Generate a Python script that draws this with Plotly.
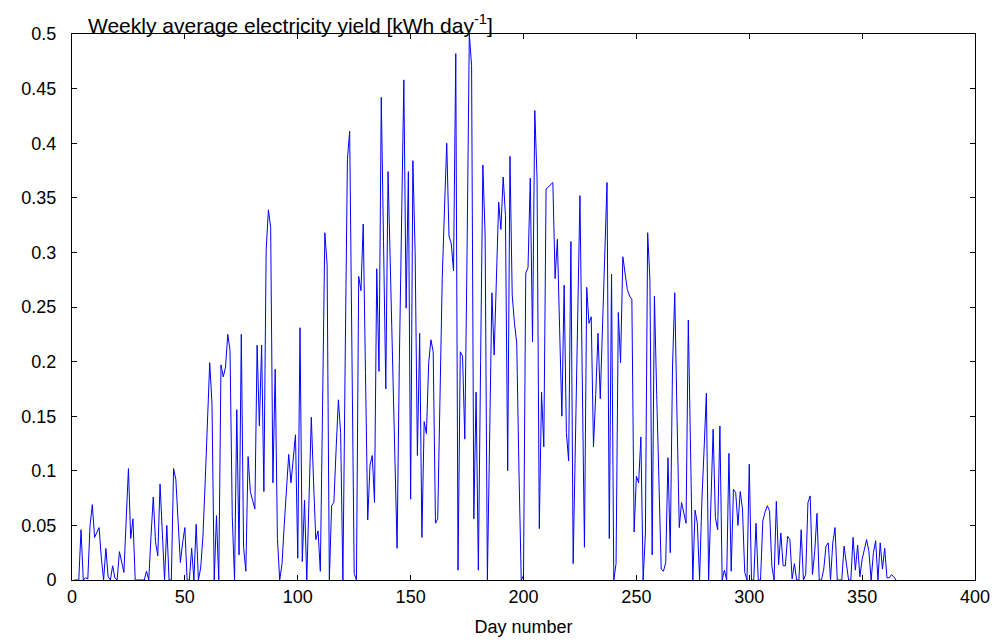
import plotly.graph_objects as go

# Daily values, day 1 .. 365 (kWh day^-1)
yield_d001_050 = [0, 0, 0, 0.046, 0, 0.002, 0.001, 0.05, 0.069, 0.039,
                  0.044, 0.048, 0.02, 0, 0.029, 0.003, 0, 0.013, 0.002, 0,
                  0.026, 0.015, 0.007, 0.055, 0.102, 0.038, 0.056, 0, 0, 0,
                  0, 0, 0.008, 0, 0.04, 0.076, 0.035, 0.022, 0.088, 0.044,
                  0, 0.05, 0, 0, 0.102, 0.092, 0.05, 0.016, 0.034, 0.048]
yield_d051_100 = [0, 0, 0.029, 0, 0.051, 0, 0.011, 0.04, 0.09, 0.145,
                  0.199, 0.162, 0, 0.059, 0, 0.197, 0.186, 0.195, 0.225, 0.21,
                  0.058, 0, 0.156, 0.023, 0.225, 0.03, 0.008, 0.113, 0.081, 0.073,
                  0.065, 0.215, 0.141, 0.215, 0.081, 0.302, 0.339, 0.323, 0.089, 0.193,
                  0.038, 0, 0.014, 0.05, 0.085, 0.115, 0.089, 0.11, 0.133, 0.02]
yield_d101_150 = [0.231, 0.017, 0.073, 0, 0.08, 0.149, 0.09, 0.037, 0.045, 0.008,
                  0.16, 0.318, 0.289, 0, 0.068, 0.071, 0.12, 0.165, 0.135, 0,
                  0.2, 0.385, 0.411, 0.2, 0.006, 0, 0.278, 0.265, 0.326, 0.19,
                  0.055, 0.105, 0.114, 0.071, 0.285, 0.191, 0.442, 0.31, 0.175, 0.374,
                  0.29, 0.2, 0.11, 0.029, 0.2, 0.35, 0.458, 0.249, 0.374, 0.074]
yield_d151_200 = [0.384, 0.3, 0.114, 0.226, 0.039, 0.145, 0.134, 0.199, 0.22, 0.209,
                  0.052, 0.056, 0.17, 0.276, 0.34, 0.4, 0.315, 0.308, 0.283, 0.482,
                  0.009, 0.209, 0.205, 0.129, 0.3, 0.5, 0.471, 0.056, 0.172, 0.009,
                  0.2, 0.38, 0.316, 0, 0.13, 0.263, 0.206, 0.28, 0.346, 0.321,
                  0.369, 0.334, 0.1, 0.388, 0.261, 0.235, 0.217, 0.1, 0, 0.004]
yield_d201_250 = [0.281, 0.286, 0.368, 0.218, 0.43, 0.368, 0.047, 0.172, 0.122, 0.358,
                  0.36, 0.362, 0.364, 0.276, 0.312, 0.23, 0.15, 0.27, 0.135, 0.109,
                  0.31, 0.015, 0.13, 0.24, 0.352, 0.19, 0.03, 0.268, 0.235, 0.241,
                  0.122, 0.17, 0.226, 0.166, 0.23, 0.3, 0.364, 0.038, 0.28, 0,
                  0.015, 0.245, 0.199, 0.296, 0.28, 0.266, 0.26, 0.257, 0.044, 0.095]
yield_d251_300 = [0.089, 0.131, 0, 0.043, 0.318, 0.275, 0.023, 0.26, 0.17, 0.09,
                  0.01, 0.008, 0.016, 0.112, 0.025, 0.195, 0.263, 0.15, 0.048, 0.071,
                  0.06, 0.052, 0.238, 0.12, 0, 0.064, 0.052, 0, 0.072, 0.12,
                  0.171, 0, 0.07, 0.138, 0.057, 0.046, 0.141, 0, 0.009, 0,
                  0.116, 0.008, 0.083, 0.08, 0.05, 0.081, 0.065, 0.007, 0, 0.106]
yield_d301_365 = [0, 0, 0.052, 0, 0, 0.054, 0.062, 0.068, 0.063, 0.013,
                  0, 0.072, 0.014, 0.043, 0.013, 0.013, 0.04, 0.037, 0.001, 0.015,
                  0, 0, 0.046, 0, 0.005, 0.071, 0.077, 0.005, 0.026, 0.061,
                  0, 0, 0.01, 0.031, 0.034, 0, 0.034, 0.048, 0, 0,
                  0, 0.031, 0.014, 0, 0, 0.039, 0.009, 0.032, 0.003, 0.019,
                  0.028, 0.037, 0.026, 0, 0.025, 0.036, 0, 0.034, 0.01, 0.029,
                  0.002, 0.002, 0.005, 0.003, 0]

values = (yield_d001_050 + yield_d051_100 + yield_d101_150 + yield_d151_200
          + yield_d201_250 + yield_d251_300 + yield_d301_365)
days = list(range(1, len(values) + 1))

x_ticks = [0, 50, 100, 150, 200, 250, 300, 350, 400]
y_ticks = [0, 0.05, 0.1, 0.15, 0.2, 0.25, 0.3, 0.35, 0.4, 0.45, 0.5]
y_tick_text = ["0", "0.05", "0.1", "0.15", "0.2", "0.25", "0.3", "0.35", "0.4", "0.45", "0.5"]

title_text = "Weekly average electricity yield [kWh day<sup>-1</sup>]"
x_title = "Day number"

FONT = "Liberation Sans, Arial, sans-serif"

fig = go.Figure()
fig.add_trace(go.Scatter(x=days, y=values, mode="lines",
                         line=dict(color="#0000ff", width=1),
                         hoverinfo="x+y", showlegend=False))

axis_common = dict(showline=True, linecolor="black", linewidth=1, mirror="ticks",
                   ticks="inside", ticklen=5, tickcolor="black", tickwidth=1,
                   showgrid=False, zeroline=False, automargin=False,
                   tickfont=dict(family=FONT, size=18, color="black"))

fig.update_xaxes(range=[0, 400], tickvals=x_ticks, ticktext=[str(v) for v in x_ticks],
                 title=dict(text=x_title, font=dict(family=FONT, size=18, color="black"),
                            standoff=14),
                 **axis_common)
fig.update_yaxes(range=[0, 0.5], tickvals=y_ticks, ticktext=y_tick_text,
                 ticklabelstandoff=11, **axis_common)

fig.add_annotation(text=title_text, xref="paper", yref="paper", x=0.016, y=1.0,
                   xanchor="left", yanchor="bottom", showarrow=False,
                   font=dict(family=FONT, size=21, color="black"), yshift=-5)

fig.update_layout(width=998, height=643,
                  margin=dict(l=72, r=23, t=34, b=63),
                  paper_bgcolor="white", plot_bgcolor="white",
                  font=dict(family=FONT, size=18, color="black"))

fig.write_html("out.html")
